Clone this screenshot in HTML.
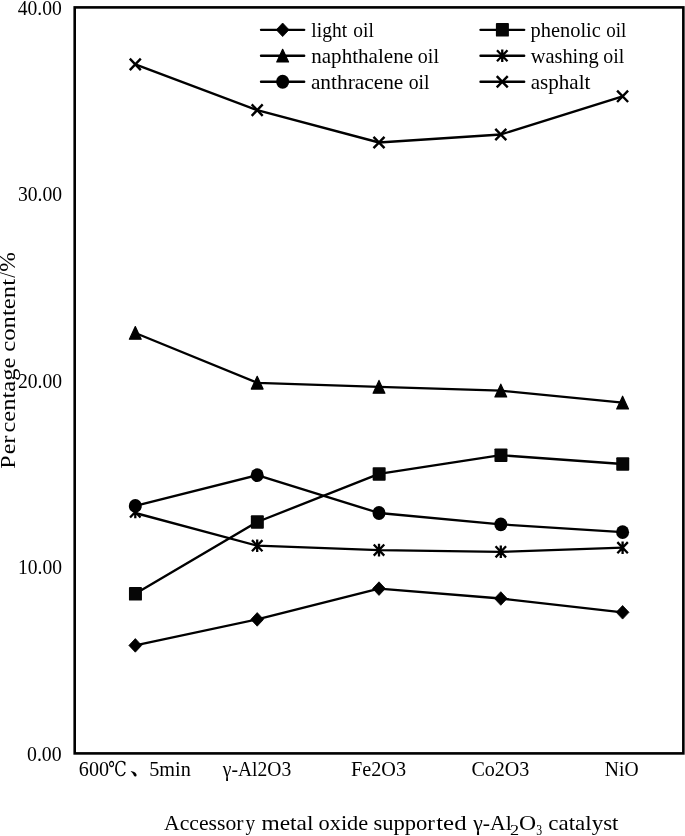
<!DOCTYPE html>
<html><head><meta charset="utf-8"><title>chart</title>
<style>
html,body{margin:0;padding:0;background:#fff}
svg{display:block}
text{fill:#000;font-family:"Liberation Serif","Noto Serif CJK SC",serif}
</style></head><body>
<svg width="685" height="836" viewBox="0 0 685 836">
<rect width="685" height="836" fill="#fff"/>
<rect x="74.7" y="7.4" width="608.65" height="746.0" fill="none" stroke="#000" stroke-width="2.6"/>
<polyline points="135.30,645.40 257.20,619.40 379.00,588.60 500.80,598.50 622.60,612.30" fill="none" stroke="#000" stroke-width="2.35" stroke-linejoin="round"/>
<path d="M128.90 645.40L135.30 638.60L141.70 645.40L135.30 652.20Z" fill="#000" stroke="#000" stroke-width="0.8" stroke-linejoin="round"/>
<path d="M250.80 619.40L257.20 612.60L263.60 619.40L257.20 626.20Z" fill="#000" stroke="#000" stroke-width="0.8" stroke-linejoin="round"/>
<path d="M372.60 588.60L379.00 581.80L385.40 588.60L379.00 595.40Z" fill="#000" stroke="#000" stroke-width="0.8" stroke-linejoin="round"/>
<path d="M494.40 598.50L500.80 591.70L507.20 598.50L500.80 605.30Z" fill="#000" stroke="#000" stroke-width="0.8" stroke-linejoin="round"/>
<path d="M616.20 612.30L622.60 605.50L629.00 612.30L622.60 619.10Z" fill="#000" stroke="#000" stroke-width="0.8" stroke-linejoin="round"/>
<polyline points="135.30,593.80 257.20,522.00 379.00,473.90 500.80,455.20 622.60,464.00" fill="none" stroke="#000" stroke-width="2.35" stroke-linejoin="round"/>
<rect x="128.95" y="587.05" width="13.0" height="13.5" rx="0.9" fill="#060606"/>
<rect x="250.85" y="515.25" width="13.0" height="13.5" rx="0.9" fill="#060606"/>
<rect x="372.65" y="467.15" width="13.0" height="13.5" rx="0.9" fill="#060606"/>
<rect x="494.45" y="448.45" width="13.0" height="13.5" rx="0.9" fill="#060606"/>
<rect x="616.25" y="457.25" width="13.0" height="13.5" rx="0.9" fill="#060606"/>
<polyline points="135.30,333.00 257.20,382.80 379.00,386.90 500.80,390.65 622.60,402.70" fill="none" stroke="#000" stroke-width="2.35" stroke-linejoin="round"/>
<path d="M135.30 326.50L141.20 339.25L129.40 339.25Z" fill="#000" stroke="#000" stroke-width="1.2" stroke-linejoin="round"/>
<path d="M257.20 376.30L263.10 389.05L251.30 389.05Z" fill="#000" stroke="#000" stroke-width="1.2" stroke-linejoin="round"/>
<path d="M379.00 380.40L384.90 393.15L373.10 393.15Z" fill="#000" stroke="#000" stroke-width="1.2" stroke-linejoin="round"/>
<path d="M500.80 384.15L506.70 396.90L494.90 396.90Z" fill="#000" stroke="#000" stroke-width="1.2" stroke-linejoin="round"/>
<path d="M622.60 396.20L628.50 408.95L616.70 408.95Z" fill="#000" stroke="#000" stroke-width="1.2" stroke-linejoin="round"/>
<polyline points="135.30,513.00 257.20,545.70 379.00,550.10 500.80,551.80 622.60,547.70" fill="none" stroke="#000" stroke-width="2.35" stroke-linejoin="round"/>
<path d="M130.05 506.35L140.55 517.45M130.05 517.45L140.55 506.35M135.30 505.60L135.30 518.20" stroke="#000" stroke-width="2.3" fill="none"/>
<path d="M251.95 540.15L262.45 551.25M251.95 551.25L262.45 540.15M257.20 539.40L257.20 552.00" stroke="#000" stroke-width="2.3" fill="none"/>
<path d="M373.75 544.55L384.25 555.65M373.75 555.65L384.25 544.55M379.00 543.80L379.00 556.40" stroke="#000" stroke-width="2.3" fill="none"/>
<path d="M495.55 546.25L506.05 557.35M495.55 557.35L506.05 546.25M500.80 545.50L500.80 558.10" stroke="#000" stroke-width="2.3" fill="none"/>
<path d="M617.35 542.15L627.85 553.25M617.35 553.25L627.85 542.15M622.60 541.40L622.60 554.00" stroke="#000" stroke-width="2.3" fill="none"/>
<polyline points="135.30,505.90 257.20,475.20 379.00,513.00 500.80,524.35 622.60,532.20" fill="none" stroke="#000" stroke-width="2.35" stroke-linejoin="round"/>
<ellipse cx="135.30" cy="505.90" rx="6.5" ry="6.9" fill="#000"/>
<ellipse cx="257.20" cy="475.20" rx="6.5" ry="6.9" fill="#000"/>
<ellipse cx="379.00" cy="513.00" rx="6.5" ry="6.9" fill="#000"/>
<ellipse cx="500.80" cy="524.35" rx="6.5" ry="6.9" fill="#000"/>
<ellipse cx="622.60" cy="532.20" rx="6.5" ry="6.9" fill="#000"/>
<polyline points="135.30,64.40 257.20,110.10 379.00,142.50 500.80,134.50 622.60,96.30" fill="none" stroke="#000" stroke-width="2.35" stroke-linejoin="round"/>
<path d="M129.80 58.70L140.80 70.10M129.80 70.10L140.80 58.70" stroke="#000" stroke-width="2.4" fill="none"/>
<path d="M251.70 104.40L262.70 115.80M251.70 115.80L262.70 104.40" stroke="#000" stroke-width="2.4" fill="none"/>
<path d="M373.50 136.80L384.50 148.20M373.50 148.20L384.50 136.80" stroke="#000" stroke-width="2.4" fill="none"/>
<path d="M495.30 128.80L506.30 140.20M495.30 140.20L506.30 128.80" stroke="#000" stroke-width="2.4" fill="none"/>
<path d="M617.10 90.60L628.10 102.00M617.10 102.00L628.10 90.60" stroke="#000" stroke-width="2.4" fill="none"/>
<line x1="261.0" y1="29.8" x2="304.2" y2="29.8" stroke="#000" stroke-width="2.35" stroke-linecap="round"/>
<path d="M276.25 29.80L282.65 23.00L289.05 29.80L282.65 36.60Z" fill="#000" stroke="#000" stroke-width="0.8" stroke-linejoin="round"/>
<line x1="480.5" y1="29.8" x2="524.2" y2="29.8" stroke="#000" stroke-width="2.35" stroke-linecap="round"/>
<rect x="495.90" y="23.05" width="13.0" height="13.5" rx="0.9" fill="#060606"/>
<line x1="261.0" y1="55.75" x2="304.2" y2="55.75" stroke="#000" stroke-width="2.35" stroke-linecap="round"/>
<path d="M282.65 49.25L288.55 62.00L276.75 62.00Z" fill="#000" stroke="#000" stroke-width="1.2" stroke-linejoin="round"/>
<line x1="480.5" y1="55.75" x2="524.2" y2="55.75" stroke="#000" stroke-width="2.35" stroke-linecap="round"/>
<path d="M497.00 50.20L507.50 61.30M497.00 61.30L507.50 50.20M502.25 49.45L502.25 62.05" stroke="#000" stroke-width="2.3" fill="none"/>
<line x1="261.0" y1="81.75" x2="304.2" y2="81.75" stroke="#000" stroke-width="2.35" stroke-linecap="round"/>
<ellipse cx="282.65" cy="81.75" rx="6.5" ry="6.9" fill="#000"/>
<line x1="480.5" y1="81.75" x2="524.2" y2="81.75" stroke="#000" stroke-width="2.35" stroke-linecap="round"/>
<path d="M496.75 76.05L507.75 87.45M496.75 87.45L507.75 76.05" stroke="#000" stroke-width="2.4" fill="none"/>
<text><tspan x="17.65" y="14.90" font-size="21.8" textLength="44.13" lengthAdjust="spacingAndGlyphs">40.00</tspan></text>
<text><tspan x="17.90" y="201.00" font-size="21.8" textLength="44.16" lengthAdjust="spacingAndGlyphs">30.00</tspan></text>
<text><tspan x="17.90" y="387.50" font-size="21.8" textLength="44.16" lengthAdjust="spacingAndGlyphs">20.00</tspan></text>
<text><tspan x="18.02" y="574.00" font-size="21.8" textLength="44.00" lengthAdjust="spacingAndGlyphs">10.00</tspan></text>
<text><tspan x="27.02" y="761.00" font-size="21.8" textLength="34.61" lengthAdjust="spacingAndGlyphs">0.00</tspan></text>
<text><tspan x="311.35" y="36.75" font-size="22" textLength="35.81" lengthAdjust="spacingAndGlyphs">light</tspan> <tspan x="353.25" y="36.75" font-size="22" textLength="20.55" lengthAdjust="spacingAndGlyphs">oil</tspan></text>
<text><tspan x="530.50" y="36.75" font-size="22" textLength="70.32" lengthAdjust="spacingAndGlyphs">phenolic</tspan> <tspan x="606.20" y="36.75" font-size="22" textLength="20.06" lengthAdjust="spacingAndGlyphs">oil</tspan></text>
<text><tspan x="311.20" y="62.70" font-size="22" textLength="101.92" lengthAdjust="spacingAndGlyphs">naphthalene</tspan> <tspan x="417.83" y="62.70" font-size="22" textLength="21.12" lengthAdjust="spacingAndGlyphs">oil</tspan></text>
<text><tspan x="530.70" y="62.70" font-size="22" textLength="68.00" lengthAdjust="spacingAndGlyphs">washing</tspan> <tspan x="603.32" y="62.70" font-size="22" textLength="21.01" lengthAdjust="spacingAndGlyphs">oil</tspan></text>
<text><tspan x="310.88" y="88.65" font-size="22" textLength="92.48" lengthAdjust="spacingAndGlyphs">anthracene</tspan> <tspan x="408.78" y="88.65" font-size="22" textLength="20.82" lengthAdjust="spacingAndGlyphs">oil</tspan></text>
<text><tspan x="530.70" y="88.65" font-size="22" textLength="59.71" lengthAdjust="spacingAndGlyphs">asphalt</tspan></text>
<text><tspan x="78.83" y="775.80" font-size="22.0" textLength="30.24" lengthAdjust="spacingAndGlyphs">600</tspan><tspan x="108.23" y="775.80" font-size="20.5" textLength="18.43" lengthAdjust="spacingAndGlyphs" style="font-family:'DejaVu Serif', 'Noto Serif CJK SC', serif">℃</tspan><tspan x="129.90" y="774.40" font-size="21.5" style="font-family:'Noto Serif CJK SC', serif;font-weight:bold">、</tspan><tspan x="149.20" y="775.80" font-size="22.0" textLength="41.56" lengthAdjust="spacingAndGlyphs">5min</tspan></text>
<text><tspan x="222.78" y="775.80" font-size="22.0" textLength="68.46" lengthAdjust="spacingAndGlyphs">γ-Al2O3</tspan></text>
<text><tspan x="350.97" y="775.80" font-size="22.0" textLength="55.09" lengthAdjust="spacingAndGlyphs">Fe2O3</tspan></text>
<text><tspan x="471.45" y="775.80" font-size="22.0" textLength="57.95" lengthAdjust="spacingAndGlyphs">Co2O3</tspan></text>
<text><tspan x="604.80" y="775.80" font-size="22.0" textLength="33.76" lengthAdjust="spacingAndGlyphs">NiO</tspan></text>
<text><tspan x="164.08" y="829.50" font-size="22.0" textLength="79.35" lengthAdjust="spacingAndGlyphs">Accessor</tspan><tspan x="245.55" y="829.50" font-size="22.0" textLength="9.61" lengthAdjust="spacingAndGlyphs">y</tspan> <tspan x="261.50" y="829.50" font-size="22.0" textLength="52.02" lengthAdjust="spacingAndGlyphs">metal</tspan> <tspan x="318.53" y="829.50" font-size="22.0" textLength="49.70" lengthAdjust="spacingAndGlyphs">oxide</tspan> <tspan x="373.42" y="829.50" font-size="22.0" textLength="61.47" lengthAdjust="spacingAndGlyphs">suppor</tspan><tspan x="436.22" y="829.50" font-size="22.0" textLength="30.36" lengthAdjust="spacingAndGlyphs">ted</tspan> <tspan x="473.22" y="829.50" font-size="22.0" textLength="38.55" lengthAdjust="spacingAndGlyphs">γ-Al</tspan><tspan x="510.05" y="835.00" font-size="15.5" textLength="9.08" lengthAdjust="spacingAndGlyphs">2</tspan><tspan x="519.07" y="829.50" font-size="22.0" textLength="17.10" lengthAdjust="spacingAndGlyphs">O</tspan><tspan x="536.30" y="835.00" font-size="15.5" textLength="5.88" lengthAdjust="spacingAndGlyphs">3</tspan> <tspan x="548.33" y="829.50" font-size="22.0" textLength="70.16" lengthAdjust="spacingAndGlyphs">catalyst</tspan></text>
<text transform="rotate(-90)"><tspan x="-468.67" y="15.30" font-size="21.0" textLength="13.25" lengthAdjust="spacingAndGlyphs">P</tspan><tspan x="-454.28" y="15.30" font-size="21.0" textLength="18.64" lengthAdjust="spacingAndGlyphs">er</tspan><tspan x="-432.53" y="15.30" font-size="21.0" textLength="74.80" lengthAdjust="spacingAndGlyphs">centage</tspan> <tspan x="-351.80" y="15.30" font-size="21.0" textLength="72.82" lengthAdjust="spacingAndGlyphs">content</tspan><tspan x="-277.80" y="15.30" font-size="24" textLength="5.62" lengthAdjust="spacingAndGlyphs">/</tspan><tspan x="-271.63" y="15.30" font-size="24" textLength="19.67" lengthAdjust="spacingAndGlyphs">%</tspan></text>
</svg>
</body></html>
